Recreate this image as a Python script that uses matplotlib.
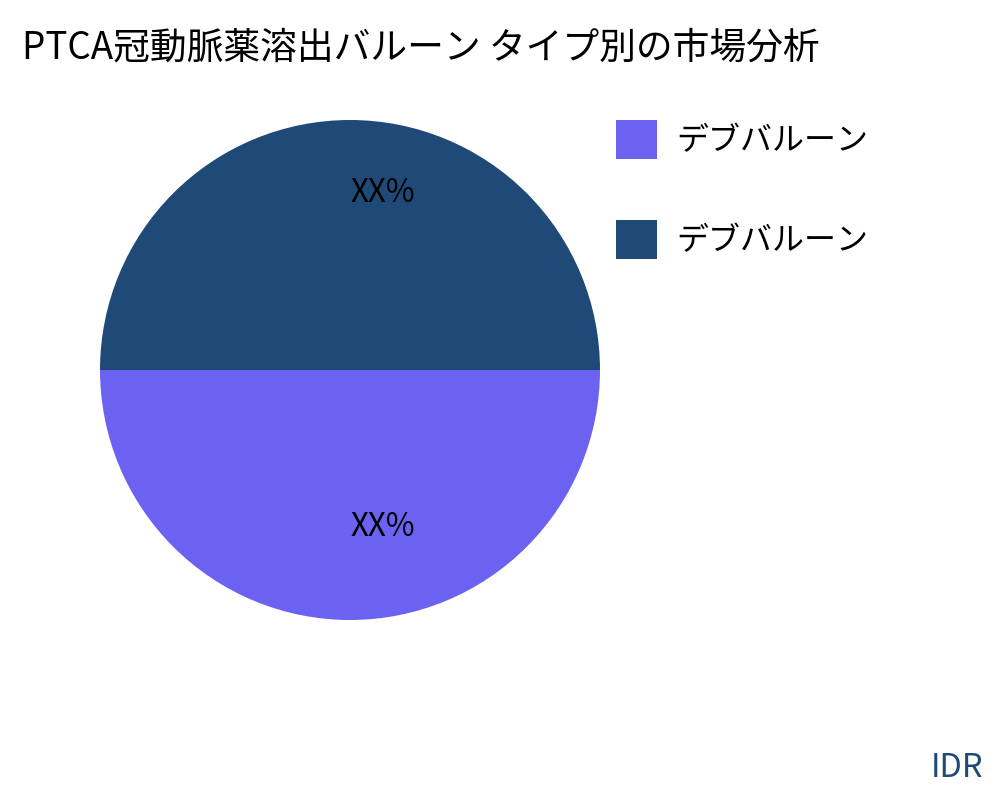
import matplotlib
matplotlib.use("Agg")
import matplotlib.pyplot as plt

plt.rcParams['font.family'] = ['Noto Sans CJK JP', 'DejaVu Sans']

title = "PTCA冠動脈薬溶出バルーン タイプ別の市場分析"
categories = ["デブバルーン", "デブバルーン"]
values = [50, 50]
labels = ["XX%", "XX%"]
colors = ["#6C62F2", "#1F4A78"]

fig = plt.figure(figsize=(10, 8), dpi=100)
ax = fig.add_axes([0.1, 0.225, 0.5, 0.625])
wedges, _ = ax.pie(values, colors=colors, startangle=180, counterclock=True,
                   radius=1, wedgeprops=dict(linewidth=0))
ax.set_xlim(-1, 1)
ax.set_ylim(-1, 1)
ax.set_aspect('equal')
ax.axis('off')

label_pos = [(0.13, -0.63), (0.13, 0.71)]
for (x, y), t in zip(label_pos, labels):
    ax.text(x, y, t, ha='center', va='center', fontsize=22.5, color='black')

fig.text(0.022, 0.94, title, ha='left', va='center', fontsize=26.5, color='black')

leg = fig.legend(wedges, categories, loc='upper left', bbox_to_anchor=(0.616, 0.85),
                 frameon=False, fontsize=23, handlelength=1.28, handleheight=1.5,
                 labelspacing=1.9, handletextpad=0.6, borderpad=0, borderaxespad=0)

fig.text(0.983, 0.04, "IDR", ha='right', va='center', fontsize=23.5, color="#1F4A78")

fig.savefig("out.png", dpi=100, facecolor='white')
